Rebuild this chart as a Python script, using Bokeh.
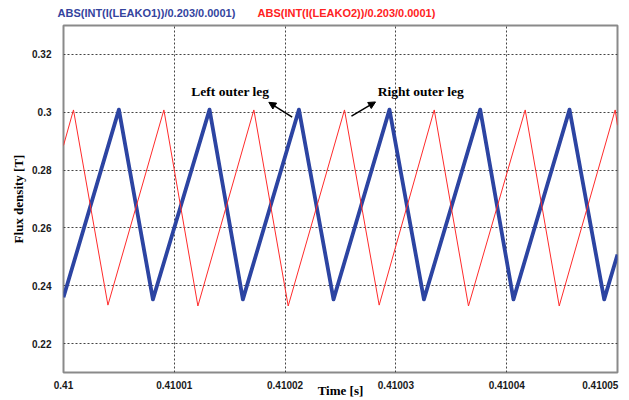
from bokeh.plotting import figure
from bokeh.layouts import column
from bokeh.models import Range1d, FixedTicker, Label, Arrow, NormalHead
from bokeh.core.properties import value
from bokeh.embed import file_html
from bokeh.resources import INLINE

# ---- data ----
blue_t = [0.41000000, 0.41000500, 0.41000807, 0.41001318, 0.41001619, 0.41002125,
          0.41002437, 0.41002942, 0.41003253, 0.41003761, 0.41004061, 0.41004567,
          0.41004880, 0.41005000]
blue_v = [0.2360, 0.3009, 0.2353, 0.3009, 0.2353, 0.3009,
          0.2353, 0.3009, 0.2353, 0.3009, 0.2353, 0.3009,
          0.2353, 0.2508]

red_t = [0.41000000, 0.41000090, 0.41000401, 0.41000906, 0.41001213, 0.41001718,
         0.41002028, 0.41002536, 0.41002849, 0.41003346, 0.41003655, 0.41004167,
         0.41004474, 0.41004979, 0.41005000]
red_v = [0.2885, 0.3008, 0.2333, 0.3008, 0.2330, 0.3008,
         0.2330, 0.3008, 0.2333, 0.3008, 0.2330, 0.3008,
         0.2330, 0.3008, 0.2955]

x_ticks = [0.41, 0.41001, 0.41002, 0.41003, 0.41004, 0.41005]
x_labels = ["0.41", "0.41001", "0.41002", "0.41003", "0.41004", "0.41005"]
y_ticks = [0.22, 0.24, 0.26, 0.28, 0.30, 0.32]
y_labels = ["0.22", "0.24", "0.26", "0.28", "0.3", "0.32"]

series_names = ["ABS(INT(I(LEAKO1))/0.203/0.0001)", "ABS(INT(I(LEAKO2))/0.203/0.0001)"]
x_title = "Time [s]"
y_title = "Flux density [T]"

BLUE = "#2C44A2"
RED = "#FF2B2B"
SANS = "Liberation Sans"
SERIF = "Liberation Serif"
NBSP = "\u00a0"

# ---- legend strip (texts above the frame) ----
leg = figure(width=629, height=24, output_backend="svg", toolbar_location=None,
             title=None, x_range=Range1d(0, 629), y_range=Range1d(0, 24),
             min_border=0, min_border_left=0, min_border_right=0,
             min_border_top=0, min_border_bottom=0,
             x_axis_location=None, y_axis_location=None,
             background_fill_color="white", border_fill_color="white")
if hasattr(leg, "frame_align"):
    leg.frame_align = False
leg.outline_line_color = None
leg.grid.visible = False
leg.text(x=[57, 257], y=[11.5, 11.5], text=series_names,
         text_color=["#34449E", "#FF2222"], text_font=value(SANS),
         text_font_style="bold", text_font_size="11px",
         text_align="left", text_baseline="middle")

# ---- main plot ----
p = figure(width=629, height=376, output_backend="svg", toolbar_location=None,
           x_range=Range1d(x_ticks[0], x_ticks[-1]), y_range=Range1d(0.21, 0.33),
           min_border_left=63, min_border_right=12, min_border_top=1, min_border_bottom=24,
           background_fill_color="white", border_fill_color="white")
if hasattr(p, "frame_align"):
    p.frame_align = False

p.outline_line_color = "#8a8a8a"
p.outline_line_width = 2

p.xgrid.ticker = FixedTicker(ticks=x_ticks)
p.ygrid.ticker = FixedTicker(ticks=y_ticks)
for g in (p.xgrid, p.ygrid):
    g.grid_line_color = "#444444"
    g.grid_line_dash = "2 2"
    g.grid_line_width = 1

for ax in (p.xaxis, p.yaxis):
    ax.axis_line_color = None
    ax.major_tick_in = 0
    ax.major_tick_out = 0
    ax.minor_tick_in = 0
    ax.minor_tick_out = 0
    ax.major_label_text_font = SANS
    ax.major_label_text_font_style = "bold"
    ax.major_label_text_font_size = "10px"
    ax.major_label_text_color = "#1a1a1a"

p.xaxis.ticker = FixedTicker(ticks=x_ticks)
ov = {t: l for t, l in zip(x_ticks, x_labels)}
ov[x_ticks[-1]] = x_labels[-1] + NBSP * 4   # keep last label inside the canvas
p.xaxis.major_label_overrides = ov
p.xaxis.major_label_standoff = 7
p.xaxis.axis_label = x_title
p.xaxis.axis_label_text_font = SERIF
p.xaxis.axis_label_text_font_style = "bold"
p.xaxis.axis_label_text_font_size = "13px"
p.xaxis.axis_label_text_color = "black"
p.xaxis.axis_label_standoff = -11

p.yaxis.ticker = FixedTicker(ticks=y_ticks)
p.yaxis.major_label_overrides = {t: l for t, l in zip(y_ticks, y_labels)}
p.yaxis.major_label_standoff = 12
p.yaxis.axis_label = y_title
p.yaxis.axis_label_text_font = SERIF
p.yaxis.axis_label_text_font_style = "bold"
p.yaxis.axis_label_text_font_size = "13px"
p.yaxis.axis_label_text_color = "black"
p.yaxis.axis_label_standoff = 3

p.line(blue_t, blue_v, line_color=BLUE, line_width=3.8, line_join="round")
p.line(red_t, red_v, line_color=RED, line_width=1)

p.add_layout(Label(x=0.41001505, y=0.3072, text="Left outer leg", text_align="center",
                   text_baseline="middle", text_font=SERIF, text_font_style="bold",
                   text_font_size="13.5px", text_color="black"))
p.add_layout(Label(x=0.41003225, y=0.3072, text="Right outer leg", text_align="center",
                   text_baseline="middle", text_font=SERIF, text_font_style="bold",
                   text_font_size="13.5px", text_color="black"))
p.add_layout(Arrow(end=NormalHead(size=7, fill_color="black", line_color="black"),
                   x_start=0.41002064, y_start=0.29831, x_end=0.41001853, y_end=0.30344,
                   line_color="black", line_width=1.5))
p.add_layout(Arrow(end=NormalHead(size=7, fill_color="black", line_color="black"),
                   x_start=0.41002599, y_start=0.29865, x_end=0.41002816, y_end=0.30357,
                   line_color="black", line_width=1.5))

layout = column(leg, p, spacing=0)
open("out.html", "w").write(file_html(layout, INLINE))
